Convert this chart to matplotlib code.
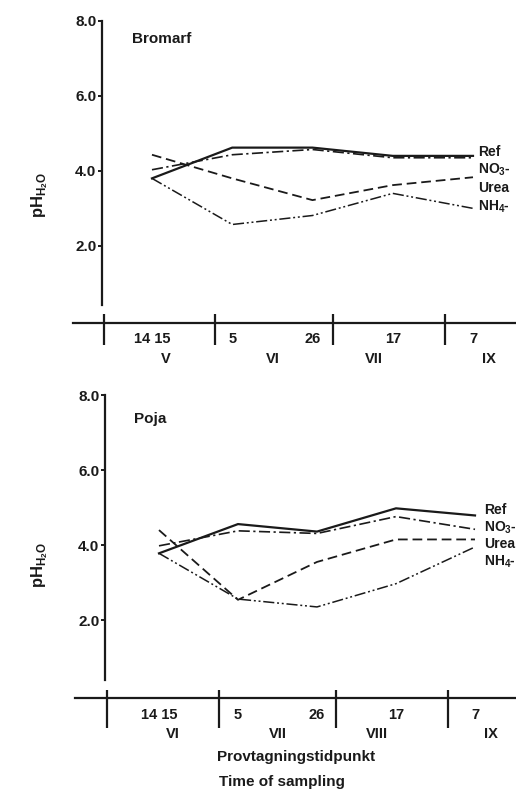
### Imports ###

import matplotlib
matplotlib.use('Agg')
from matplotlib import pyplot as plt

### Data ###

# Sampling dates (day labels) and month labels shown under the axis
date_labels = ['14 15', '5', '26', '17', '7']
months_bromarf = ['V', 'VI', 'VII', 'IX']
months_poja = ['VI', 'VII', 'VIII', 'IX']

series_names = ['Ref', 'NO$_3$-', 'Urea', 'NH$_4$-']

# pH(H2O), one list per treatment
bromarf_ref = [3.80, 4.62, 4.62, 4.40, 4.40]
bromarf_no3 = [4.03, 4.43, 4.57, 4.35, 4.35]
bromarf_urea = [4.43, 3.80, 3.22, 3.62, 3.83]
bromarf_nh4 = [3.80, 2.57, 2.81, 3.40, 3.00]

poja_ref = [3.78, 4.56, 4.36, 4.98, 4.79]
poja_no3 = [3.98, 4.38, 4.31, 4.76, 4.42]
poja_urea = [4.40, 2.54, 3.55, 4.15, 4.15]
poja_nh4 = [3.78, 2.56, 2.35, 2.97, 3.95]

### Style ###

plt.rcParams['font.family'] = ['Liberation Sans', 'DejaVu Sans']
plt.rcParams['font.weight'] = 'bold'
plt.rcParams['mathtext.fontset'] = 'custom'
plt.rcParams['mathtext.rm'] = 'Liberation Sans:bold'
plt.rcParams['mathtext.bf'] = 'Liberation Sans:bold'
plt.rcParams['lines.scale_dashes'] = False

INK = '#1a1a1a'
line_styles = ['-', (0, (8, 2.5, 1.6, 2.5)), (0, (7, 3.5)), (0, (8, 2, 1.4, 2, 1.4, 2))]
line_widths = [1.6, 1.2, 1.3, 1.1]

W, H = 516, 791

### Functions ###

def draw_panel(fig, rect_px, xlim, ylim, yaxis_x, yaxis_bottom, xline_y, xline_left, seps, sep_span,
               values, months, title, title_xy, label_x, label_y):

    # Axes placed by pixel rectangle (left, top, right, bottom)
    l, t, r, b = rect_px
    ax = fig.add_axes([l / W, 1 - b / H, (r - l) / W, (b - t) / H])
    ax.set_xlim(*xlim)
    ax.set_ylim(*ylim)
    ax.patch.set_visible(False)

    # Lines for each treatment
    x = range(len(date_labels))
    for vals, ls, lw in zip(values, line_styles, line_widths):
        ax.plot(x, vals, color = INK, linestyle = ls, linewidth = lw,
                solid_joinstyle = 'miter', clip_on = False)

    # Series labels at the right end
    for name, ly in zip(series_names, label_y):
        ax.text(label_x, ly, name, fontsize = 10, color = INK, va = 'center', ha = 'left')

    # Y axis as a free-standing spine
    for side in ['top', 'right']:
        ax.spines[side].set_visible(False)
    ax.spines['left'].set_position(('data', yaxis_x))
    ax.spines['left'].set_bounds(yaxis_bottom, 8.0)
    ax.spines['left'].set_linewidth(1.6)
    ax.spines['left'].set_color(INK)
    ax.set_yticks([2, 4, 6, 8])
    ax.set_yticklabels(['2.0', '4.0', '6.0', '8.0'], fontsize = 11, color = INK)
    ax.tick_params(axis = 'y', direction = 'out', length = 3, width = 1.4, pad = 1, colors = INK)

    # X axis line, extends left of the y axis
    ax.spines['bottom'].set_position(('data', xline_y))
    ax.spines['bottom'].set_bounds(xline_left, xlim[1])
    ax.spines['bottom'].set_linewidth(1.6)
    ax.spines['bottom'].set_color(INK)
    ax.set_xticks(list(x))
    ax.set_xticklabels(date_labels, fontsize = 10.5, color = INK)
    ax.tick_params(axis = 'x', length = 0, pad = 7, colors = INK)

    # Month separators crossing the axis line
    ax.vlines(seps, sep_span[0], sep_span[1], color = INK, linewidth = 1.6, clip_on = False)

    # Month labels
    for mx, m in zip([0.17, 1.5, 2.76, 4.2], months):
        ax.text(mx, xline_y - 0.97, m, fontsize = 10.5, color = INK, ha = 'center', va = 'center')

    # Site name
    ax.text(title_xy[0], title_xy[1], title, fontsize = 11, color = INK, ha = 'left', va = 'center')

    return ax

### Figure ###

fig = plt.figure(figsize = (W / 100, H / 100), dpi = 100)

ax_top = draw_panel(fig, (60, 10, 516, 370), (-1.146, 4.536), (-1.31, 8.29),
                    -0.623, 0.43, -0.05, -0.984, [-0.598, 0.785, 2.255, 3.651], (0.19, -0.64),
                    [bromarf_ref, bromarf_no3, bromarf_urea, bromarf_nh4],
                    months_bromarf, 'Bromarf', (-0.25, 7.52), 4.06, [4.50, 4.02, 3.55, 3.05])

ax_bot = draw_panel(fig, (60, 385, 516, 791), (-1.253, 4.519), (-2.56, 8.27),
                    -0.684, 0.40, -0.08, -1.063, [-0.658, 0.759, 2.24, 3.658], (0.13, -0.88),
                    [poja_ref, poja_no3, poja_urea, poja_nh4],
                    months_poja, 'Poja', (-0.32, 7.36), 4.12, [4.93, 4.45, 4.03, 3.55])

# Y axis titles
for y_px in [195, 565]:
    fig.text(40 / W, 1 - y_px / H, 'pH$_{\\mathbf{H_2O}}$', rotation = 90, fontsize = 12,
             color = INK, ha = 'center', va = 'center')

# Common x axis titles
fig.text(296 / W, 1 - 757 / H, 'Provtagningstidpunkt', fontsize = 11, color = INK, ha = 'center', va = 'center')
fig.text(282 / W, 1 - 782 / H, 'Time of sampling', fontsize = 11, color = INK, ha = 'center', va = 'center')

plt.savefig('out.png', dpi = 100, facecolor = 'white')
